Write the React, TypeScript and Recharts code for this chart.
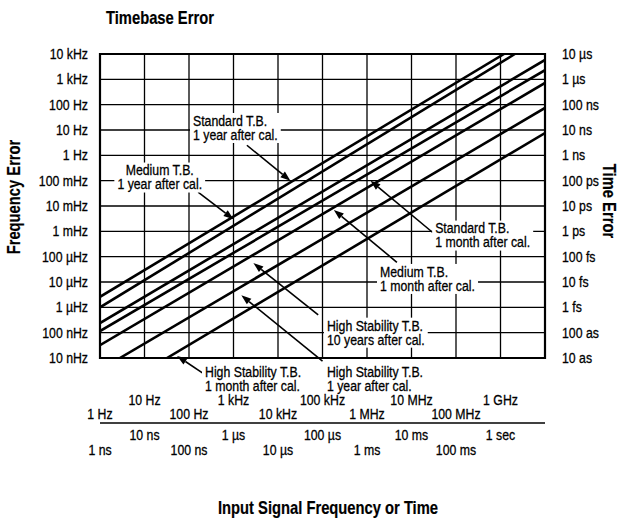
import React from 'react';
import {
  ComposedChart,
  Line,
  XAxis,
  YAxis,
  CartesianGrid,
  ReferenceArea,
  ReferenceLine,
  ReferenceDot,
  Label,
} from 'recharts';

const FONT = "'Liberation Sans', Arial, sans-serif";
const SX = 0.82; // horizontal condensing of all text

// ---- axis ticks ----
const freqTicks = [1, 10, 100, 1e3, 1e4, 1e5, 1e6, 1e7, 1e8, 1e9];
const freqTickLabels = ['1 Hz', '10 Hz', '100 Hz', '1 kHz', '10 kHz', '100 kHz', '1 MHz', '10 MHz', '100 MHz', '1 GHz'];
const timeTicks = [1e-9, 1e-8, 1e-7, 1e-6, 1e-5, 1e-4, 1e-3, 1e-2, 1e-1, 1];
const timeTickLabels = ['1 ns', '10 ns', '100 ns', '1 µs', '10 µs', '100 µs', '1 ms', '10 ms', '100 ms', '1 sec'];
const errTicks = [1e-8, 1e-7, 1e-6, 1e-5, 1e-4, 1e-3, 1e-2, 1e-1, 1, 10, 100, 1e3, 1e4];
const errTickLabels = ['10 nHz', '100 nHz', '1 µHz', '10 µHz', '100 µHz', '1 mHz', '10 mHz', '100 mHz', '1 Hz', '10 Hz', '100 Hz', '1 kHz', '10 kHz'];
const timeErrTicks = [1e-17, 1e-16, 1e-15, 1e-14, 1e-13, 1e-12, 1e-11, 1e-10, 1e-9, 1e-8, 1e-7, 1e-6, 1e-5];
const timeErrTickLabels = ['10 as', '100 as', '1 fs', '10 fs', '100 fs', '1 ps', '10 ps', '100 ps', '1 ns', '10 ns', '100 ns', '1 µs', '10 µs'];

// ---- series (input frequency in Hz, frequency error in Hz) ----
const standard1Year = [{ f: 1, v: 2.6e-6 }, { f: 1.2e9, v: 1e4 }];
const medium1Year = [{ f: 1, v: 1.0e-6 }, { f: 2.1e9, v: 1e4 }];
const standard1Month = [{ f: 1, v: 2.4e-7 }, { f: 1e10, v: 5.8e3 }];
const medium1Month = [{ f: 1, v: 1.15e-7 }, { f: 1e10, v: 2.3e3 }];
const highStab10Years = [{ f: 1, v: 3.2e-8 }, { f: 1e10, v: 720 }];
const highStab1Year = [{ f: 2.8, v: 1e-8 }, { f: 1e10, v: 74 }];
const highStab1Month = [{ f: 32, v: 1e-8 }, { f: 1e10, v: 7.6 }];

const series = [standard1Year, medium1Year, standard1Month, medium1Month, highStab10Years, highStab1Year, highStab1Month];

// ---- callouts: text anchor (f, v) and arrow from -> to ----
const callouts = [
  { lines: ['Standard T.B.', '1 year after cal.'], at: { f: 123, v: 12 }, align: 'start', from: { f: 2000, v: 2.5 }, to: { f: 1.9e4, v: 0.1 } },
  { lines: ['Medium T.B.', '1 year after cal.'], at: { f: 22, v: 0.133 }, align: 'middle', from: { f: 160, v: 0.035 }, to: { f: 1000, v: 0.003 } },
  { lines: ['Standard T.B.', '1 month after cal.'], at: { f: 3.4e7, v: 6.8e-4 }, align: 'start', from: { f: 3e7, v: 9e-4 }, to: { f: 1.2e6, v: 0.1 } },
  { lines: ['Medium T.B.', '1 month after cal.'], at: { f: 1.96e6, v: 1.32e-5 }, align: 'start', from: { f: 4.7e6, v: 6e-5 }, to: { f: 1.8e5, v: 0.007 } },
  { lines: ['High Stability T.B.', '10 years after cal.'], at: { f: 1.26e5, v: 1.0e-7 }, align: 'start', from: { f: 8e4, v: 5e-7 }, to: { f: 2.8e3, v: 5.6e-5 } },
  { lines: ['High Stability T.B.', '1 year after cal.'], at: { f: 1.26e5, v: 1.48e-9 }, align: 'start', from: { f: 1e5, v: 7.5e-9 }, to: { f: 1.5e3, v: 3e-6 } },
  { lines: ['High Stability T.B.', '1 month after cal.'], at: { f: 229, v: 1.48e-9 }, align: 'start', from: { f: 200, v: 2.6e-9 }, to: { f: 54, v: 1.2e-8 } },
];

const TICK_SIZE = 15;
const NOTE_SIZE = 15;

let ctx: CanvasRenderingContext2D | null = null;
function measure(text: string, size: number, bold = false) {
  if (!ctx && typeof document !== 'undefined') {
    ctx = document.createElement('canvas').getContext('2d');
  }
  if (!ctx) return text.length * size * 0.5 * SX;
  ctx.font = `${bold ? 'bold ' : ''}${size}px ${FONT}`;
  return ctx.measureText(text).width * SX;
}

const NText = (p: any) => {
  const { x, y, anchor = 'start', size = TICK_SIZE, bold = false, rotate = 0, children } = p;
  return (
    <text
      transform={`translate(${x} ${y}) rotate(${rotate}) scale(${SX} 1)`}
      x={0}
      y={0}
      textAnchor={anchor}
      dominantBaseline="central"
      fontSize={size}
      fontWeight={bold ? 'bold' : 'normal'}
      fontFamily={FONT}
      fill="#000"
      stroke="#000"
      strokeWidth={bold ? 0.2 : 0.3}
    >
      {children}
    </text>
  );
};

const FreqTick = (props: any) => {
  const { x, y, index } = props;
  const upper = index % 2 === 1;
  return (
    <g>
      <NText x={x} y={y + (upper ? 42 : 56)} anchor="middle">{freqTickLabels[index]}</NText>
      <NText x={x} y={y + (upper ? 77 : 92)} anchor="middle">{timeTickLabels[index]}</NText>
    </g>
  );
};

const ErrTick = (props: any) => {
  const { x, y, index } = props;
  return <NText x={x} y={y} anchor="end">{errTickLabels[index]}</NText>;
};

const TimeErrTick = (props: any) => {
  const { x, y, index } = props;
  return <NText x={x} y={y} anchor="start">{timeErrTickLabels[index]}</NText>;
};

const ArrowShape = (p: any) => {
  const { x1, y1, x2, y2 } = p;
  const dx = x2 - x1;
  const dy = y2 - y1;
  const len = Math.hypot(dx, dy) || 1;
  const ux = dx / len;
  const uy = dy / len;
  const L = 10;
  const Wd = 3.6;
  const bx = x2 - ux * L;
  const by = y2 - uy * L;
  const pts = `${x2},${y2} ${bx - uy * Wd},${by + ux * Wd} ${bx + uy * Wd},${by - ux * Wd}`;
  return (
    <g>
      <line x1={x1} y1={y1} x2={bx} y2={by} stroke="#000" strokeWidth={1.6} />
      <polygon points={pts} fill="#000" />
    </g>
  );
};

const makeNote = (lines: string[], align: string) => (p: any) => {
  const { cx, cy } = p;
  const lh = 14;
  const widths = lines.map((l) => measure(l, NOTE_SIZE));
  const w = Math.max(...widths);
  const left = align === 'middle' ? cx - w / 2 : cx;
  const top = cy - (lines.length * lh) / 2;
  return (
    <g>
      <rect x={left - 3} y={top - 1} width={w + 6} height={lines.length * lh + 2} fill="#fff" />
      {lines.map((l, i) => (
        <NText key={i} x={cx} y={top + lh * i + lh / 2} anchor={align === 'middle' ? 'middle' : 'start'} size={NOTE_SIZE}>
          {l}
        </NText>
      ))}
    </g>
  );
};

const LeftTitles = (props: any) => {
  const vb = props.viewBox || { x: 10, y: 54, width: 90, height: 304 };
  return (
    <g>
      <NText x={vb.x + vb.width + 6} y={vb.y - 37} size={18} bold>
        Timebase Error
      </NText>
      <NText x={vb.x + 3} y={vb.y + vb.height / 2 - 9} size={18} bold rotate={-90} anchor="middle">
        Frequency Error
      </NText>
    </g>
  );
};

const RightTitle = (props: any) => {
  const vb = props.viewBox || { x: 545, y: 54, width: 67, height: 304 };
  return (
    <NText x={vb.x + vb.width - 2} y={vb.y + vb.height / 2 - 5} size={18} bold rotate={90} anchor="middle">
      Time Error
    </NText>
  );
};

const BottomTitle = (props: any) => {
  const vb = props.viewBox || { x: 100, y: 423, width: 445, height: 45 };
  return (
    <NText x={vb.x + 228} y={vb.y + 84} size={18} bold anchor="middle">
      Input Signal Frequency or Time
    </NText>
  );
};

export default function App() {
  return (
    <div style={{ position: 'absolute', left: 0, top: 0, width: 622, height: 518, background: '#fff' }}>
      <ComposedChart width={622} height={518} margin={{ top: 54, right: 10, bottom: 50, left: 10 }}>
        <XAxis
          xAxisId="f"
          dataKey="f"
          type="number"
          scale="log"
          domain={[1, 1e10]}
          allowDataOverflow
          ticks={freqTicks}
          interval={0}
          axisLine={false}
          tickLine={false}
          tickSize={0}
          tickMargin={0}
          height={65}
          tick={FreqTick}
        />
        <XAxis
          xAxisId="t"
          type="number"
          scale="log"
          domain={[1e-9, 10]}
          allowDataOverflow
          ticks={timeTicks}
          interval={0}
          axisLine={{ stroke: '#000', strokeWidth: 1.5 }}
          tickLine={false}
          tick={false}
          height={45}
        >
          <Label content={BottomTitle} />
        </XAxis>
        <YAxis
          yAxisId="f"
          type="number"
          scale="log"
          domain={[1e-8, 1e4]}
          allowDataOverflow
          ticks={errTicks}
          interval={0}
          axisLine={false}
          tickLine={false}
          tickSize={0}
          tickMargin={12}
          width={90}
          tick={ErrTick}
        >
          <Label content={LeftTitles} />
        </YAxis>
        <YAxis
          yAxisId="t"
          orientation="right"
          type="number"
          scale="log"
          domain={[1e-17, 1e-5]}
          allowDataOverflow
          ticks={timeErrTicks}
          interval={0}
          axisLine={false}
          tickLine={false}
          tickSize={0}
          tickMargin={17}
          width={67}
          tick={TimeErrTick}
        >
          <Label content={RightTitle} />
        </YAxis>
        <CartesianGrid xAxisId="f" yAxisId="f" stroke="#000" strokeWidth={1.3} />
        <ReferenceArea xAxisId="f" yAxisId="f" x1={1} x2={1e10} y1={1e-8} y2={1e4} fill="none" stroke="#000" strokeWidth={2.2} ifOverflow="visible" />
        {series.map((d, i) => (
          <Line
            key={i}
            xAxisId="f"
            yAxisId="f"
            data={d}
            dataKey="v"
            type="linear"
            stroke="#000"
            strokeWidth={2.6}
            dot={false}
            activeDot={false}
            isAnimationActive={false}
          />
        ))}
        {callouts.map((c, i) => (
          <ReferenceLine
            key={`a${i}`}
            xAxisId="f"
            yAxisId="f"
            segment={[{ x: c.from.f, y: c.from.v }, { x: c.to.f, y: c.to.v }]}
            ifOverflow="visible"
            shape={ArrowShape}
          />
        ))}
        {callouts.map((c, i) => (
          <ReferenceDot
            key={`n${i}`}
            xAxisId="f"
            yAxisId="f"
            x={c.at.f}
            y={c.at.v}
            r={1}
            ifOverflow="visible"
            shape={makeNote(c.lines, c.align)}
          />
        ))}
      </ComposedChart>
    </div>
  );
}
